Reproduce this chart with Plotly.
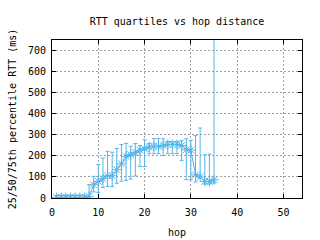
import plotly.graph_objects as go

hops = list(range(1, 36))
median = [3, 3, 3, 3, 3, 3, 3, 8, 63, 79, 92, 106, 106, 135, 163, 198, 206, 217, 227, 235,
          243, 246, 246, 250, 255, 255, 255, 250, 230, 228, 110, 100, 79, 79, 87]
q25 = [0, 0, 0, 0, 0, 0, 0, 0, 29, 27, 50, 55, 55, 70, 80, 84, 90, 105, 150, 150,
       211, 211, 211, 202, 211, 211, 211, 179, 87, 87, 76, 95, 67, 67, 71]
q75 = [12, 12, 12, 12, 12, 12, 12, 63, 103, 159, 190, 222, 218, 236, 255, 260, 246, 259, 250, 277,
       259, 283, 283, 282, 270, 267, 268, 274, 282, 275, 297, 333, 206, 209, 800]

color = "#56b4e9"
err_plus = [b - m for m, b in zip(median, q75)]
err_minus = [m - a for m, a in zip(median, q25)]

fig = go.Figure()
fig.add_trace(go.Scatter(
    x=hops, y=median, mode="lines+markers",
    line=dict(color=color, width=1),
    marker=dict(symbol="asterisk-open", size=8, color=color, line=dict(color=color, width=1)),
    error_y=dict(type="data", array=err_plus, arrayminus=err_minus, color=color, thickness=1, width=2),
    showlegend=False,
))

font = "DejaVu Sans Mono"
fig.update_layout(
    width=320, height=240,
    margin=dict(l=52, r=18, t=40, b=42),
    paper_bgcolor="white", plot_bgcolor="white",
    font=dict(family=font, size=10, color="black"),
    title=dict(text="RTT quartiles vs hop distance", x=0.5, xref="paper", y=0.91, yanchor="middle",
               font=dict(family=font, size=10, color="black")),
    xaxis=dict(range=[0, 54], tickvals=[0, 10, 20, 30, 40, 50], showgrid=True,
               gridcolor="#a0a0a0", griddash="2px,2px", gridwidth=1,
               showline=True, linecolor="black", linewidth=1, mirror="ticks",
               ticks="inside", ticklen=4, tickcolor="black", zeroline=False,
               ticklabelstandoff=5, automargin=False,
               title=dict(text="hop", standoff=11, font=dict(family=font, size=10))),
    yaxis=dict(range=[0, 752], tickvals=[0, 100, 200, 300, 400, 500, 600, 700], showgrid=True,
               gridcolor="#a0a0a0", griddash="2px,2px", gridwidth=1,
               showline=True, linecolor="black", linewidth=1, mirror="ticks",
               ticks="inside", ticklen=4, tickcolor="black", zeroline=False,
               ticklabelstandoff=3, automargin=False,
               title=dict(text="25/50/75th percentile RTT (ms)", standoff=9, font=dict(family=font, size=10))),
)
fig.write_html("out.html")
